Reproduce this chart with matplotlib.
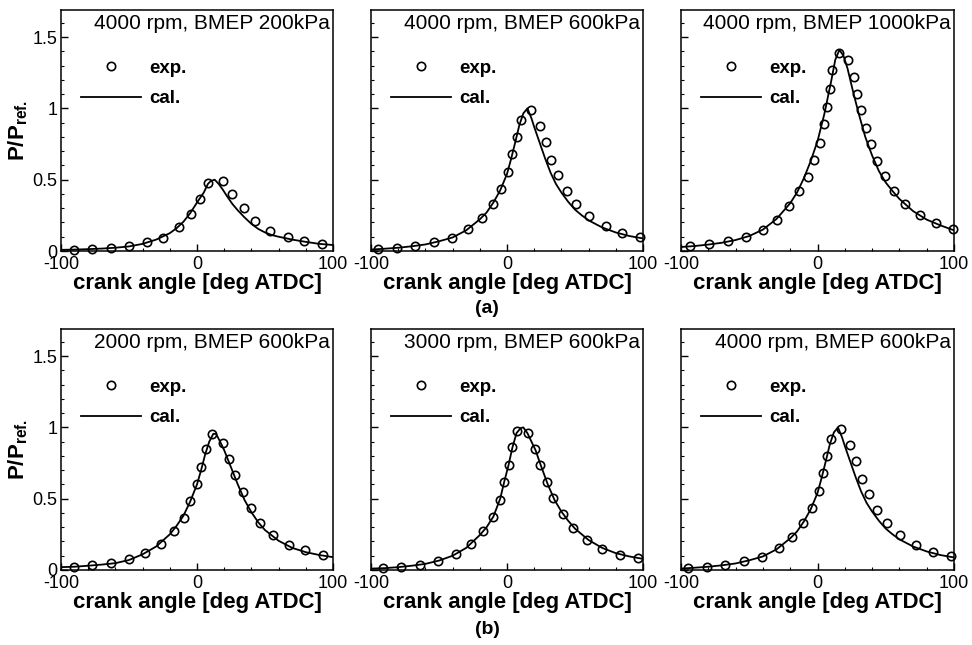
import numpy as np
import matplotlib
matplotlib.use("Agg")
import matplotlib.pyplot as plt
import matplotlib.transforms as mtransforms
from matplotlib.ticker import MultipleLocator, FuncFormatter

plt.rcParams['font.family'] = ['Liberation Sans', 'DejaVu Sans']
plt.rcParams['mathtext.fontset'] = 'custom'
plt.rcParams['mathtext.bf'] = 'Liberation Sans:bold'
plt.rcParams['mathtext.rm'] = 'Liberation Sans'
plt.rcParams['axes.unicode_minus'] = False

# ---- data ----
titles = ["4000 rpm, BMEP 200kPa", "4000 rpm, BMEP 600kPa", "4000 rpm, BMEP 1000kPa",
          "2000 rpm, BMEP 600kPa", "3000 rpm, BMEP 600kPa", "4000 rpm, BMEP 600kPa"]

# 4000 rpm, 200 kPa
exp_x_200 = [-90.5, -77, -63.6, -50, -37, -25, -13.3, -4.6, 2, 8, 19, 26, 34.5, 42.5, 54, 67, 79, 92]
exp_y_200 = [0.01, 0.017, 0.02, 0.033, 0.06, 0.093, 0.165, 0.26, 0.366, 0.476, 0.493, 0.40, 0.30,
             0.213, 0.141, 0.098, 0.069, 0.05]
cal_x_200 = [-100, -90, -80, -70, -60, -50, -40, -30, -20, -15, -10, -5, 0, 5, 8, 10, 13, 16, 19,
             22, 26, 30, 35, 40, 45, 50, 55, 60, 70, 80, 90, 100]
cal_y_200 = [0.008, 0.01, 0.013, 0.017, 0.023, 0.032, 0.05, 0.08, 0.125, 0.16, 0.205, 0.265, 0.34,
             0.41, 0.47, 0.49, 0.5, 0.47, 0.43, 0.385, 0.33, 0.285, 0.235, 0.19, 0.155, 0.13, 0.112,
             0.1, 0.08, 0.064, 0.05, 0.042]

# 4000 rpm, 600 kPa (shown in both rows)
exp_x_600 = [-95, -81, -67.5, -54, -40.5, -28.5, -18.7, -10.3, -4.2, 0.8, 3.8, 7.3, 10, 17.5, 24,
             28.4, 32.6, 37.6, 43.8, 50.8, 60.6, 72.5, 84.8, 98]
exp_y_600 = [0.012, 0.024, 0.036, 0.06, 0.092, 0.155, 0.233, 0.333, 0.436, 0.557, 0.677, 0.796, 0.92,
             0.988, 0.88, 0.761, 0.64, 0.53, 0.422, 0.328, 0.243, 0.177, 0.128, 0.1]
cal_x_600 = [-100, -90, -80, -70, -60, -50, -40, -30, -20, -15, -10, -5, 0, 3, 6, 9, 12, 15, 18, 20,
             24, 28, 32, 36, 40, 45, 50, 55, 60, 70, 80, 90, 100]
cal_y_600 = [0.01, 0.016, 0.023, 0.033, 0.046, 0.068, 0.095, 0.145, 0.222, 0.27, 0.34, 0.425, 0.54,
             0.645, 0.76, 0.88, 0.965, 1.0, 0.93, 0.87, 0.76, 0.65, 0.55, 0.47, 0.41, 0.345, 0.29,
             0.25, 0.215, 0.165, 0.13, 0.105, 0.088]

# 4000 rpm, 1000 kPa
exp_x_1000 = [-93.2, -79.8, -65.9, -52.6, -40.1, -29.9, -20.7, -13.4, -6.8, -2.4, 1.7, 4.6, 7.3, 9.2,
              10.9, 15.8, 22.4, 26.5, 28.9, 31.6, 35.2, 39.4, 43.7, 49.6, 56.4, 64.4, 75.1, 86.8, 99.6]
exp_y_1000 = [0.035, 0.047, 0.07, 0.096, 0.146, 0.219, 0.315, 0.419, 0.522, 0.638, 0.76, 0.889, 1.007,
              1.136, 1.266, 1.39, 1.336, 1.219, 1.101, 0.988, 0.866, 0.748, 0.631, 0.525, 0.419,
              0.332, 0.254, 0.195, 0.153]
cal_x_1000 = [-100, -90, -80, -70, -60, -50, -40, -30, -20, -15, -10, -5, 0, 5, 10, 13, 16, 19, 22,
              26, 30, 35, 40, 45, 50, 55, 60, 70, 80, 90, 100]
cal_y_1000 = [0.028, 0.035, 0.045, 0.058, 0.077, 0.105, 0.15, 0.225, 0.335, 0.41, 0.51, 0.63, 0.77,
              0.96, 1.19, 1.34, 1.41, 1.37, 1.28, 1.12, 0.97, 0.8, 0.67, 0.56, 0.48, 0.42, 0.365,
              0.28, 0.22, 0.18, 0.145]

# 2000 rpm, 600 kPa
exp_x_2000 = [-90.5, -77.2, -63.6, -50.2, -38.3, -26.2, -17, -9.7, -4.9, 0, 2.7, 6.6, 10.9, 19.4, 23.8,
              28.2, 33.5, 39.6, 46.6, 55.8, 67.5, 79.4, 93]
exp_y_2000 = [0.024, 0.033, 0.047, 0.076, 0.118, 0.184, 0.272, 0.366, 0.485, 0.603, 0.721, 0.846,
              0.957, 0.894, 0.78, 0.664, 0.546, 0.437, 0.333, 0.243, 0.173, 0.137, 0.106]
cal_x_2000 = [-100, -90, -80, -70, -60, -50, -40, -30, -20, -15, -10, -5, 0, 3, 6, 9, 12, 14, 17, 20,
              25, 30, 35, 40, 45, 50, 60, 70, 80, 90, 100]
cal_y_2000 = [0.02, 0.023, 0.03, 0.038, 0.048, 0.07, 0.11, 0.165, 0.25, 0.31, 0.38, 0.48, 0.6, 0.7,
              0.81, 0.9, 0.955, 0.955, 0.9, 0.84, 0.72, 0.6, 0.49, 0.405, 0.335, 0.28, 0.205, 0.155,
              0.125, 0.105, 0.09]

# 3000 rpm, 600 kPa
exp_x_3000 = [-91, -77.6, -63.9, -50.5, -37.8, -26.8, -17.6, -10.2, -5.4, -2.4, 1.2, 3.7, 7.3, 15.4,
              20.7, 24.4, 29.3, 34.1, 41, 48.8, 58.5, 70.2, 82.9, 96.3]
exp_y_3000 = [0.012, 0.022, 0.036, 0.065, 0.112, 0.179, 0.27, 0.371, 0.49, 0.615, 0.737, 0.866, 0.976,
              0.962, 0.849, 0.734, 0.617, 0.502, 0.395, 0.294, 0.21, 0.148, 0.108, 0.084]
cal_x_3000 = [-100, -90, -80, -70, -60, -50, -40, -30, -20, -15, -10, -5, -2, 1, 4, 7, 10, 12, 15, 18,
              21, 25, 30, 35, 40, 45, 50, 60, 70, 80, 90, 100]
cal_y_3000 = [0.01, 0.013, 0.02, 0.03, 0.043, 0.066, 0.1, 0.155, 0.245, 0.3, 0.375, 0.5, 0.62, 0.73,
              0.86, 0.96, 0.995, 1.0, 0.96, 0.9, 0.84, 0.73, 0.6, 0.49, 0.41, 0.345, 0.29, 0.21,
              0.155, 0.118, 0.095, 0.078]

exp_x = [exp_x_200, exp_x_600, exp_x_1000, exp_x_2000, exp_x_3000, exp_x_600]
exp_y = [exp_y_200, exp_y_600, exp_y_1000, exp_y_2000, exp_y_3000, exp_y_600]
cal_x = [cal_x_200, cal_x_600, cal_x_1000, cal_x_2000, cal_x_3000, cal_x_600]
cal_y = [cal_y_200, cal_y_600, cal_y_1000, cal_y_2000, cal_y_3000, cal_y_600]

# ---- layout (pixels of a 972x645 canvas) ----
W, H = 972, 645
cols = [(61, 333), (371, 643), (681, 954)]
rows = [(10, 251), (329, 570)]

fig = plt.figure(figsize=(W / 100, H / 100), dpi=100)

for i in range(6):
    r, c = divmod(i, 3)
    x0, x1 = cols[c]
    y0, y1 = rows[r]
    ax = fig.add_axes([x0 / W, 1 - y1 / H, (x1 - x0) / W, (y1 - y0) / H])

    h_cal, = ax.plot(cal_x[i], cal_y[i], color='black', lw=1.3, zorder=2)
    h_exp, = ax.plot(exp_x[i], exp_y[i], ls='none', marker='o', ms=6, mfc='none',
                     mec='black', mew=1.2, zorder=3, clip_on=False)

    ax.set_xlim(-100, 100)
    ax.set_ylim(0, 1.69)
    ax.xaxis.set_major_locator(MultipleLocator(100))
    ax.xaxis.set_minor_locator(MultipleLocator(20))
    ax.yaxis.set_major_locator(MultipleLocator(0.5))
    ax.yaxis.set_minor_locator(MultipleLocator(0.1))
    ax.yaxis.set_major_formatter(FuncFormatter(lambda v, p: f'{v:g}'))
    ax.tick_params(which='both', direction='in', top=False, right=False, labelsize=13)
    ax.tick_params(axis='x', pad=3.5)
    ax.tick_params(axis='y', pad=2.5)
    ax.tick_params(which='major', length=5, width=1)
    ax.tick_params(which='minor', length=2.5, width=0.8)
    for s in ax.spines.values():
        s.set_linewidth(1.1)

    if c == 0:
        ax.set_ylabel(r'$\mathbf{P/P_{ref.}}$', fontsize=16, labelpad=2)
        # lift the "0" a little so it sits just above the "-100"
        lab0 = ax.yaxis.get_major_ticks()[0].label1
        lab0.set_transform(lab0.get_transform() +
                           mtransforms.ScaledTranslation(0, 3 / 72, fig.dpi_scale_trans))
    else:
        ax.tick_params(labelleft=False)
    ax.set_xlabel('crank angle [deg ATDC]', fontsize=16, fontweight='bold', labelpad=0)

    ax.text(0.988, 0.985, titles[i], transform=ax.transAxes, ha='right', va='top', fontsize=15)

    ax.legend([h_exp, h_cal], ['exp.', 'cal.'], loc='upper left', bbox_to_anchor=(0.074, 0.793),
              frameon=False, borderpad=0, borderaxespad=0, handlelength=3.2, handletextpad=0.45,
              labelspacing=0.7, prop={'weight': 'bold', 'size': 13.5})

fig.text(487 / W, 1 - 308 / H, '(a)', ha='center', va='center', fontsize=14, fontweight='bold')
fig.text(487 / W, 1 - 630 / H, '(b)', ha='center', va='center', fontsize=14, fontweight='bold')

fig.savefig('out.png', dpi=100)
